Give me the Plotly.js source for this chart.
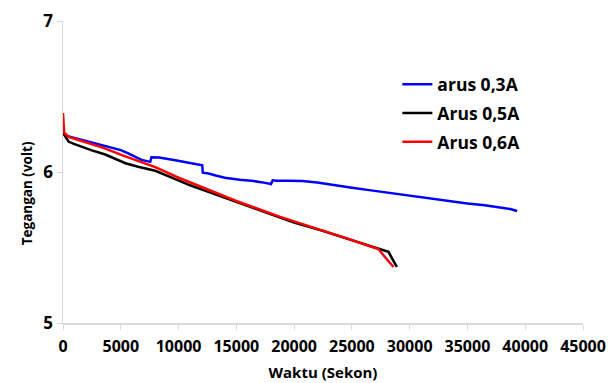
<!DOCTYPE html>
<html>
<head>
<meta charset="utf-8">
<script src="https://cdn.plot.ly/plotly-3.0.1.min.js"></script>
<style>html,body{margin:0;padding:0;background:#fff;}#chart{width:609px;height:383px;}</style>
</head>
<body>
<div id="chart"></div>
<script>
// Series names
const seriesNames = ["arus 0,3A", "Arus 0,5A", "Arus 0,6A"];

// arus 0,3A (blue)
const blueX = [0, 100, 500, 1000, 2000, 3000, 3660, 5000, 5600, 6200, 6800, 7550, 7650, 8300, 9000, 9600, 10300, 11000, 11800, 12050, 12100, 12600, 13300, 14000, 15300, 16500, 17500, 18000, 18150, 18500, 19500, 20700, 22000, 23500, 25000, 26500, 28000, 29200, 30500, 32000, 33500, 35000, 36500, 37800, 38700, 39300];
const blueY = [6.27, 6.25, 6.235, 6.225, 6.205, 6.185, 6.17, 6.145, 6.125, 6.10, 6.08, 6.067, 6.098, 6.096, 6.09, 6.08, 6.07, 6.06, 6.048, 6.045, 5.995, 5.99, 5.975, 5.962, 5.948, 5.94, 5.928, 5.92, 5.945, 5.942, 5.942, 5.94, 5.93, 5.91, 5.895, 5.88, 5.865, 5.85, 5.835, 5.82, 5.805, 5.792, 5.78, 5.765, 5.755, 5.742];

// Arus 0,5A (black)
const blackX = [0, 50, 200, 500, 1000, 1640, 2500, 3660, 4500, 5400, 6500, 7985, 9567, 11000, 12457, 14000, 16000, 18218, 20000, 22258, 24000, 25500, 26868, 27300, 27800, 28166, 28500, 28893];
const blackY = [6.27, 6.256, 6.235, 6.2, 6.185, 6.167, 6.143, 6.116, 6.09, 6.058, 6.035, 6.008, 5.958, 5.912, 5.872, 5.83, 5.775, 5.712, 5.665, 5.615, 5.572, 5.537, 5.502, 5.494, 5.482, 5.471, 5.425, 5.371];

// Arus 0,6A (red)
const redX = [0, 30, 100, 300, 485, 1200, 2215, 3500, 5100, 6500, 7985, 10000, 12457, 15000, 18800, 22258, 24500, 26868, 27300, 27734, 28200, 28600];
const redY = [6.39, 6.3, 6.26, 6.245, 6.233, 6.215, 6.193, 6.16, 6.112, 6.072, 6.032, 5.962, 5.884, 5.808, 5.703, 5.62, 5.562, 5.5, 5.49, 5.449, 5.41, 5.371];

// Axis labels
const xTitle = "Waktu (Sekon)";
const yTitle = "Tegangan (volt)";

const FONT = "Open Sans, Liberation Sans, sans-serif";

const traces = [
  {x: blueX, y: blueY, name: seriesNames[0], legendgroup: "g1", mode: "lines", line: {color: "#0000ff", width: 2.5}},
  {x: blackX, y: blackY, name: seriesNames[1], legendgroup: "g2", mode: "lines", line: {color: "#000000", width: 2.5}},
  {x: redX, y: redY, name: seriesNames[2], legendgroup: "g3", mode: "lines", line: {color: "#ff0000", width: 2.5}}
];

const layout = {
  width: 609, height: 383,
  margin: {l: 63, r: 26, t: 21, b: 60, pad: 0},
  paper_bgcolor: "#ffffff", plot_bgcolor: "#ffffff",
  font: {family: FONT, color: "#000000"},
  showlegend: true,
  legend: {
    x: 0.643, y: 0.85, xanchor: "left", yanchor: "top",
    font: {family: FONT, size: 17.5, color: "#000000", weight: "bold"},
    bgcolor: "rgba(0,0,0,0)", borderwidth: 0,
    traceorder: "grouped", tracegroupgap: 3,
    itemwidth: 30
  },
  xaxis: {
    range: [0, 45000], dtick: 5000, tick0: 0, tickformat: "d",
    showgrid: false, zeroline: false,
    showline: true, linecolor: "#d9d9d9", linewidth: 1.5,
    ticks: "outside", ticklen: 5, tickcolor: "#d9d9d9", tickwidth: 1,
    ticklabelstandoff: 3,
    tickfont: {family: FONT, size: 16, color: "#000000", weight: "bold"},
    title: {text: xTitle, font: {family: FONT, size: 15, color: "#000000", weight: "bold"}, standoff: 12},
    fixedrange: true
  },
  yaxis: {
    range: [5, 7], dtick: 1, tick0: 5,
    showgrid: false, zeroline: false,
    showline: true, linecolor: "#d9d9d9", linewidth: 1.5,
    ticks: "outside", ticklen: 5, tickcolor: "#d9d9d9", tickwidth: 1,
    tickfont: {family: FONT, size: 17, color: "#000000", weight: "bold"},
    fixedrange: true
  },
  annotations: [{
    text: yTitle, xref: "paper", yref: "paper",
    x: -0.069, y: 0.43, xanchor: "center", yanchor: "middle",
    textangle: -90, showarrow: false,
    font: {family: FONT, size: 13.5, color: "#000000", weight: "bold"}
  }]
};

Plotly.newPlot("chart", traces, layout, {displayModeBar: false, staticPlot: true});
</script>
</body>
</html>
